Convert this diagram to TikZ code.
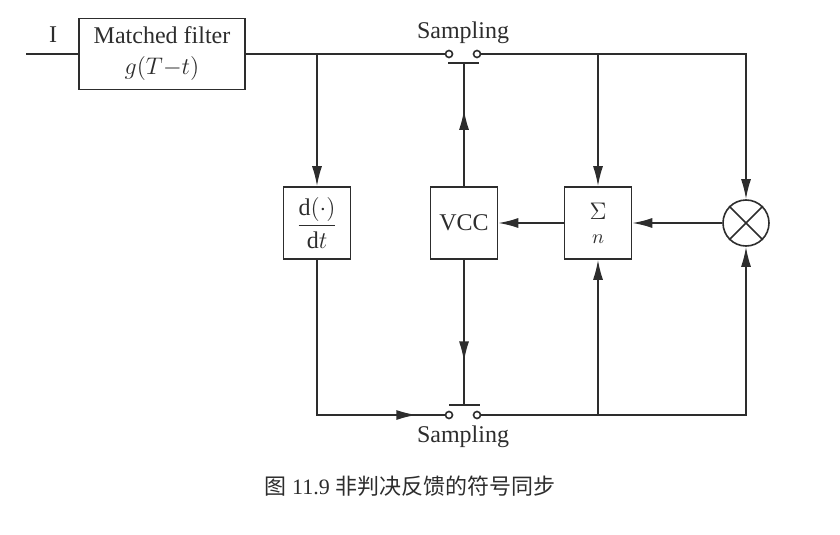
\documentclass[tikz,border=0pt]{standalone}
\usepackage{amsmath}
\usepackage{fontspec}
\setmainfont{Liberation Serif}
\newfontfamily\cjk{Noto Sans CJK SC}
\usetikzlibrary{positioning, arrows.meta, decorations.markings}
\definecolor{cL}{RGB}{45,45,45}

\begin{document}
\begin{tikzpicture}[x=0.5pt, y=-0.5pt, on grid, thick, color=cL,
                    >={Latex[length=10pt,width=5pt]},
                    every node/.style={font=\fontsize{12}{14}\selectfont},
                    block/.style={draw, thick, minimum width=33.5pt, minimum height=36pt, inner sep=1pt},
                    contact/.style={circle, draw, thick, fill=white, minimum size=3.5pt, inner sep=0pt},
                    midarrow/.style={postaction={decorate},
                        decoration={markings, mark=at position #1 with {\arrow{>}}}}]
    \useasboundingbox (0,0) rectangle (840,535);

    % Blocks
    \node[block, minimum width=83pt, minimum height=35.5pt, align=center] (MF) at (162,54)
        {Matched filter\\[1.5pt]$g(T{-}t)$};
    \node (I) at (53,35) {I};
    \coordinate (in) at (26,54);
    \node[block] (Ddt) at (317,223) {$\dfrac{\mathrm{d}(\cdot)}{\mathrm{d}t}$};
    \node[block] (VCC) [right=73.5pt of Ddt] {VCC};
    \node[block, align=center] (Sum) [right=67pt of VCC]
        {$\Sigma$\\[-2pt]{\fontsize{10}{11}\selectfont$n$}};
    \node[circle, draw, thick, minimum size=23pt] (Mult) [right=74pt of Sum] {};
    \draw (Mult.north west) -- (Mult.south east)
          (Mult.north east) -- (Mult.south west);

    % Sampling switches (Format: left / right contact)
    \node[contact] (swTl) at (449,54) {};
    \node[contact] (swTr) [right=14pt of swTl] {};
    \node[contact] (swBl) at (449,415) {};
    \node[contact] (swBr) [right=14pt of swBl] {};
    \coordinate (barT) at (464,63);
    \coordinate (barB) at (464,405);
    \draw ([xshift=-8pt]barT) -- ([xshift=7.5pt]barT);
    \draw ([xshift=-7.5pt]barB) -- ([xshift=8pt]barB);
    \node (sampT) at (463,33) {Sampling};
    \node (sampB) at (463,437) {Sampling};

    % Connections
    \draw (in) -- (MF);
    \draw (MF) -- (swTl);
    \draw[->] (swTr) -| (Mult);
    \draw[->] (Ddt |- MF) -- (Ddt);
    \draw[->] (Sum |- MF) -- (Sum);
    \draw[midarrow=0.9] (Ddt) |- (swBl);
    \draw[midarrow=0.62] (VCC) -- (barT);
    \draw[midarrow=0.7] (VCC) -- (barB);
    \draw[->] (swBr) -| (Mult);
    \draw[->] (Sum |- swBr) -- (Sum);
    \draw[->] (Sum) -- (VCC);
    \draw[->] (Mult) -- (Sum);

    % Caption
    \node[font=\fontsize{11}{13}\selectfont] (cap) at (410,486)
        {{\cjk 图} 11.9 {\cjk 非判决反馈的符号同步}};
\end{tikzpicture}
\end{document}
